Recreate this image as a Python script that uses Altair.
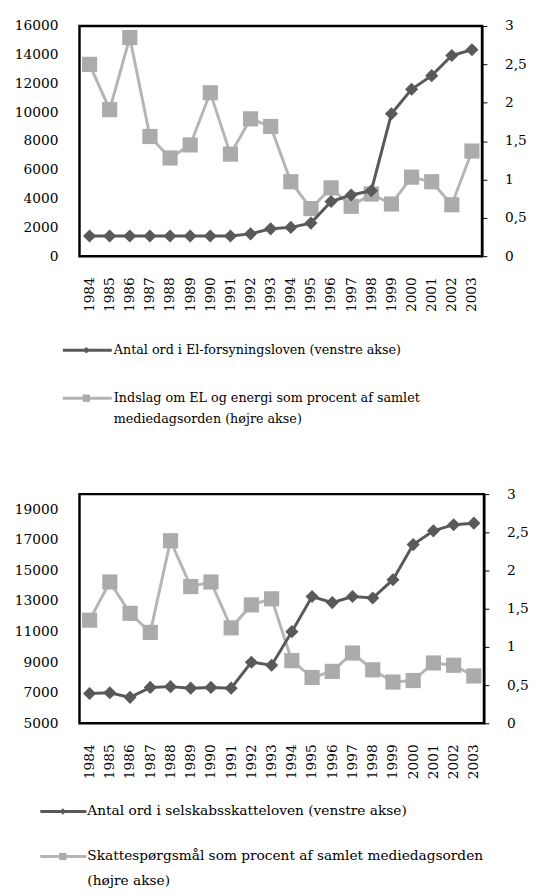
import altair as alt
import pandas as pd

# ---------------- data ----------------
years = ["1984", "1985", "1986", "1987", "1988", "1989", "1990", "1991", "1992", "1993",
         "1994", "1995", "1996", "1997", "1998", "1999", "2000", "2001", "2002", "2003"]

el_words = [1400, 1400, 1400, 1400, 1400, 1400, 1400, 1400, 1550, 1900,
            2000, 2300, 3800, 4250, 4550, 9900, 11600, 12550, 13950, 14350]
el_media = [2.50, 1.91, 2.85, 1.56, 1.28, 1.45, 2.13, 1.33, 1.79, 1.69,
            0.97, 0.62, 0.89, 0.65, 0.81, 0.68, 1.03, 0.97, 0.67, 1.37]

tax_words = [6950, 7000, 6700, 7350, 7400, 7300, 7350, 7300, 9000, 8800,
             11000, 13300, 12900, 13300, 13200, 14400, 16700, 17600, 18000, 18100]
tax_media = [1.35, 1.85, 1.44, 1.19, 2.39, 1.79, 1.85, 1.25, 1.55, 1.63,
             0.82, 0.60, 0.68, 0.92, 0.70, 0.54, 0.56, 0.79, 0.76, 0.62]

left1_ticks = [0, 2000, 4000, 6000, 8000, 10000, 12000, 14000, 16000]
left2_ticks = [5000, 7000, 9000, 11000, 13000, 15000, 17000, 19000]
right_ticks = [0, 0.5, 1, 1.5, 2, 2.5, 3]

legend1 = ["Antal ord i El-forsyningsloven (venstre akse)",
           "Indslag om EL og energi som procent af samlet",
           "mediedagsorden (højre akse)"]
legend2 = ["Antal ord i selskabsskatteloven (venstre akse)",
           "Skattespørgsmål som procent af samlet mediedagsorden",
           "(højre akse)"]

FONT = "DejaVu Serif"
DARK = "#595959"
LIGHT = "#ababab"
LIGHT_LINE = "#b5b5b5"


def panel(words, media, wdomain, wticks, width, height, labels, leg):
    df = pd.DataFrame({"year": years, "words": words, "media": media})
    xenc = alt.X("year:O", scale=alt.Scale(type="point", padding=0.5),
                 axis=alt.Axis(title=None, labelAngle=270, labelAlign="right",
                               labelBaseline="middle", ticks=False, domain=False,
                               labelPadding=21, labelFont=FONT, labelFontSize=14,
                               labelColor="black"))
    yl = alt.Y("words:Q", scale=alt.Scale(domain=wdomain, nice=False, zero=False),
               axis=alt.Axis(title=None, orient="left", values=wticks, format="d",
                             ticks=False, domain=False, grid=False, labelPadding=22,
                             labelFont=FONT, labelFontSize=14, labelColor="black"))
    yr = alt.Y("media:Q", scale=alt.Scale(domain=[0, 3], nice=False),
               axis=alt.Axis(title=None, orient="right", values=right_ticks,
                             labelExpr="replace(toString(datum.value), '.', ',')",
                             ticks=True, tickSize=5, tickColor="black", tickWidth=1,
                             domain=True, domainColor="black", domainWidth=2,
                             grid=False, labelPadding=18,
                             labelFont=FONT, labelFontSize=14, labelColor="black"))
    base = alt.Chart(df).encode(x=xenc)
    right = alt.layer(
        base.mark_line(color=LIGHT_LINE, strokeWidth=3).encode(y=yr),
        base.mark_point(shape="square", filled=True, size=240, color=LIGHT, opacity=1).encode(y=yr),
    )
    left = alt.layer(
        base.mark_line(color=DARK, strokeWidth=3).encode(y=yl),
        base.mark_point(shape="diamond", filled=True, size=180, color=DARK, opacity=1).encode(y=yl),
    )

    # legend (positions relative to plot origin)
    sx1, sx2, mx, tx, y1, y2, y3, fs = leg
    layers = [right, left]
    ldf = [pd.DataFrame({"t": [s]}) for s in labels]
    layers.append(alt.Chart(ldf[0]).mark_rule(color=DARK, strokeWidth=3).encode(
        x=alt.value(sx1), x2=alt.value(sx2), y=alt.value(y1)))
    layers.append(alt.Chart(ldf[0]).mark_point(shape="diamond", filled=True, size=45,
                                                color=DARK, opacity=1).encode(
        x=alt.value(mx), y=alt.value(y1)))
    layers.append(alt.Chart(ldf[1]).mark_rule(color=LIGHT_LINE, strokeWidth=3).encode(
        x=alt.value(sx1), x2=alt.value(sx2), y=alt.value(y2)))
    layers.append(alt.Chart(ldf[1]).mark_point(shape="square", filled=True, size=55,
                                                color=LIGHT, opacity=1).encode(
        x=alt.value(mx), y=alt.value(y2)))
    for d, yy in zip(ldf, [y1, y2, y3]):
        layers.append(alt.Chart(d).mark_text(align="left", baseline="middle", font=FONT,
                                             fontSize=fs, color="black").encode(
            text="t:N", x=alt.value(tx), y=alt.value(yy)))

    return alt.layer(*layers).resolve_scale(y="independent").properties(
        width=width, height=height)


p1 = panel(el_words, el_media, [0, 16000], left1_ticks, 411, 235, legend1,
           (-17, 33, 7, 35, 331, 380, 401, 13))
p2 = panel(tax_words, tax_media, [5000, 20000], left2_ticks, 413, 234, legend2,
           (-40, 7, -17, 8, 324, 370, 395, 14))

chart = alt.vconcat(p1, p2, spacing=59).configure_view(
    stroke="black", strokeWidth=2.5
).properties(padding={"left": 5, "top": 0, "right": 0, "bottom": 0})

chart.save("out.html", embed_options={"renderer": "svg", "actions": False})
